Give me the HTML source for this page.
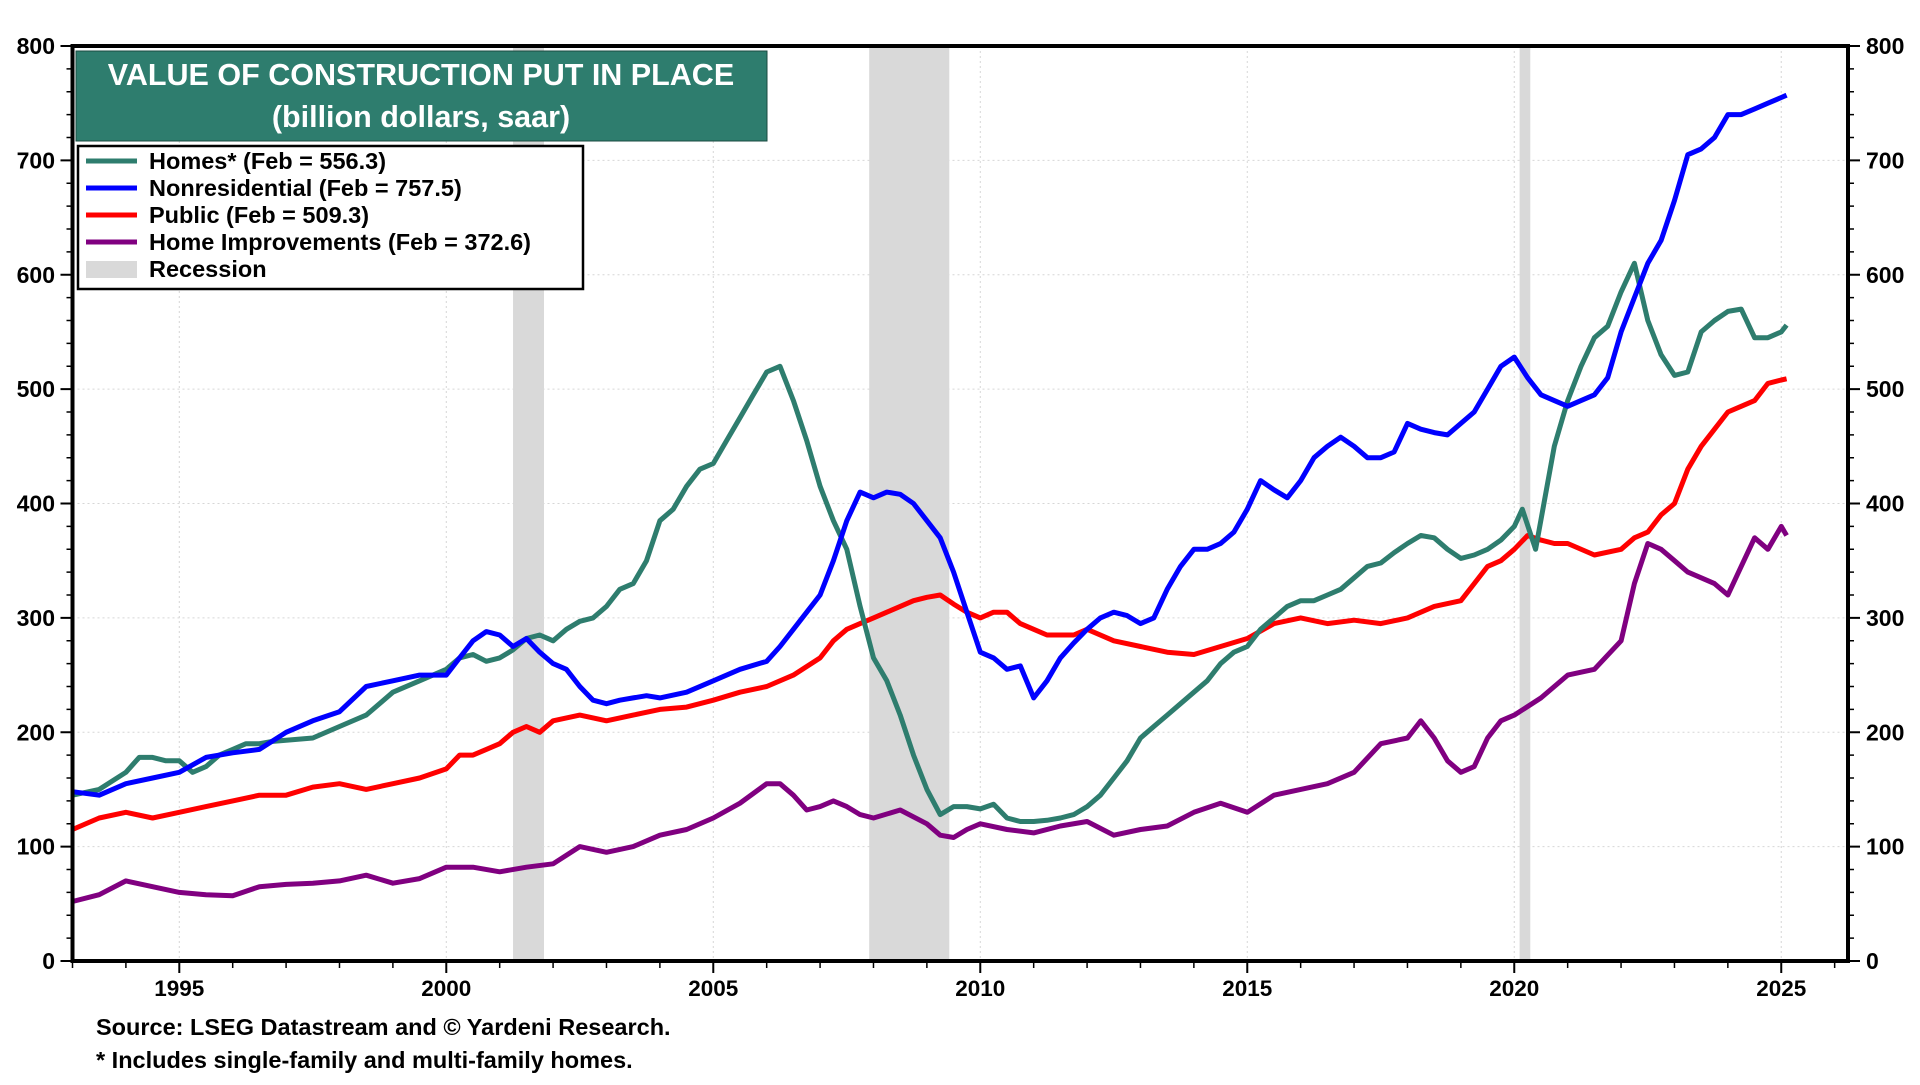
<!DOCTYPE html>
<html><head><meta charset="utf-8">
<style>
html,body{margin:0;padding:0;background:#fff;}
body{width:1920px;height:1080px;overflow:hidden;font-family:"Liberation Sans",Arial,sans-serif;}
svg text{font-family:"Liberation Sans",Arial,sans-serif;font-weight:bold;}
</style></head>
<body>
<svg id="chart" width="1920" height="1080" viewBox="0 0 1920 1080" xmlns="http://www.w3.org/2000/svg">
<g id="grid"></g>
<g id="recessions"></g>
<g id="series"></g>
<g id="axes"></g>
<g id="titlebox">
<rect x="76" y="51" width="691" height="90" fill="#2e7d6e" fill-opacity="1" stroke="#1a4a40" stroke-width="1"/>
<text x="421" y="85" text-anchor="middle" fill="#fff" font-size="30.5">VALUE OF CONSTRUCTION PUT IN PLACE</text>
<text x="421" y="127" text-anchor="middle" fill="#fff" font-size="30.5">(billion dollars, saar)</text>
</g>
<g id="legendbox">
<rect x="78" y="146" width="505" height="143" fill="#fff" stroke="#000" stroke-width="2.5"/>
<g><line x1="86" y1="161" x2="137" y2="161" stroke="#2e7d6e" stroke-width="5"/><text x="149" y="169" font-size="23.5">Homes* (Feb = 556.3)</text></g>
<g><line x1="86" y1="188" x2="137" y2="188" stroke="#0000ff" stroke-width="5"/><text x="149" y="196" font-size="23.5">Nonresidential (Feb = 757.5)</text></g>
<g><line x1="86" y1="215" x2="137" y2="215" stroke="#ff0000" stroke-width="5"/><text x="149" y="223" font-size="23.5">Public (Feb = 509.3)</text></g>
<g><line x1="86" y1="242" x2="137" y2="242" stroke="#800080" stroke-width="5"/><text x="149" y="250" font-size="23.5">Home Improvements (Feb = 372.6)</text></g>
<g><rect x="86" y="261" width="51" height="17" fill="#d9d9d9"/><text x="149" y="277" font-size="23.5">Recession</text></g>
</g>
<text x="96" y="1035" font-size="23.5">Source: LSEG Datastream and © Yardeni Research.</text>
<text x="96" y="1068" font-size="23.5">* Includes single-family and multi-family homes.</text>
</svg>
<script>
const yTicks=[0,100,200,300,400,500,600,700,800];
const xTickYears=[1995,2000,2005,2010,2015,2020,2025];
const recessionStarts=[2001.25,2007.92,2020.1];
const recessionEnds=[2001.83,2009.42,2020.3];

const homesDates=[1993,1993.5,1994,1994.25,1994.5,1994.75,1995,1995.25,1995.5,1995.75,1996,1996.25,1996.5,1996.75,1997,1997.5,1998,1998.5,1999,1999.5,2000,2000.25,2000.5,2000.75,2001,2001.25,2001.5,2001.75,2002,2002.25,2002.5,2002.75,2003,2003.25,2003.5,2003.75,2004,2004.25,2004.5,2004.75,2005,2005.25,2005.5,2005.75,2006,2006.25,2006.5,2006.75,2007,2007.25,2007.5,2007.75,2008,2008.25,2008.5,2008.75,2009,2009.25,2009.5,2009.75,2010,2010.25,2010.5,2010.75,2011,2011.25,2011.5,2011.75,2012,2012.25,2012.5,2012.75,2013,2013.25,2013.5,2013.75,2014,2014.25,2014.5,2014.75,2015,2015.25,2015.5,2015.75,2016,2016.25,2016.5,2016.75,2017,2017.25,2017.5,2017.75,2018,2018.25,2018.5,2018.75,2019,2019.25,2019.5,2019.75,2020,2020.15,2020.4,2020.75,2021,2021.25,2021.5,2021.75,2022,2022.25,2022.5,2022.75,2023,2023.25,2023.5,2023.75,2024,2024.25,2024.5,2024.75,2025,2025.1];
const homesVals=[145,150,165,178,178,175,175,165,170,180,185,190,190,192,193,195,205,215,235,245,255,265,268,262,265,272,282,285,280,290,297,300,310,325,330,350,385,395,415,430,435,455,475,495,515,520,490,455,415,385,360,310,265,245,215,180,150,128,135,135,133,137,125,122,122,123,125,128,135,145,160,175,195,205,215,225,235,245,260,270,275,290,300,310,315,315,320,325,335,345,348,357,365,372,370,360,352,355,360,368,380,395,360,450,490,520,545,555,585,610,560,530,512,515,550,560,568,570,545,545,550,556];

const nonresDates=[1993,1993.5,1994,1994.5,1995,1995.5,1996,1996.5,1997,1997.5,1998,1998.5,1999,1999.5,2000,2000.25,2000.5,2000.75,2001,2001.25,2001.5,2001.75,2002,2002.25,2002.5,2002.75,2003,2003.25,2003.5,2003.75,2004,2004.5,2005,2005.5,2006,2006.25,2006.5,2006.75,2007,2007.25,2007.5,2007.75,2008,2008.25,2008.5,2008.75,2009,2009.25,2009.5,2009.75,2010,2010.25,2010.5,2010.75,2011,2011.25,2011.5,2011.75,2012,2012.25,2012.5,2012.75,2013,2013.25,2013.5,2013.75,2014,2014.25,2014.5,2014.75,2015,2015.25,2015.5,2015.75,2016,2016.25,2016.5,2016.75,2017,2017.25,2017.5,2017.75,2018,2018.25,2018.5,2018.75,2019,2019.25,2019.5,2019.75,2020,2020.25,2020.5,2020.75,2021,2021.25,2021.5,2021.75,2022,2022.25,2022.5,2022.75,2023,2023.25,2023.5,2023.75,2024,2024.25,2024.5,2024.75,2025,2025.1];
const nonresVals=[148,145,155,160,165,178,182,185,200,210,218,240,245,250,250,265,280,288,285,275,282,270,260,255,240,228,225,228,230,232,230,235,245,255,262,275,290,305,320,350,385,410,405,410,408,400,385,370,340,305,270,265,255,258,230,245,265,278,290,300,305,302,295,300,325,345,360,360,365,375,395,420,412,405,420,440,450,458,450,440,440,445,470,465,462,460,470,480,500,520,528,510,495,490,485,490,495,510,550,580,610,630,665,705,710,720,740,740,745,750,755,757];

const publicDates=[1993,1993.5,1994,1994.5,1995,1995.5,1996,1996.5,1997,1997.5,1998,1998.5,1999,1999.5,2000,2000.25,2000.5,2000.75,2001,2001.25,2001.5,2001.75,2002,2002.5,2003,2003.5,2004,2004.5,2005,2005.5,2006,2006.5,2007,2007.25,2007.5,2007.75,2008,2008.25,2008.5,2008.75,2009,2009.25,2009.5,2009.75,2010,2010.25,2010.5,2010.75,2011,2011.25,2011.5,2011.75,2012,2012.5,2013,2013.5,2014,2014.5,2015,2015.5,2016,2016.5,2017,2017.5,2018,2018.5,2019,2019.25,2019.5,2019.75,2020,2020.25,2020.5,2020.75,2021,2021.5,2022,2022.25,2022.5,2022.75,2023,2023.25,2023.5,2023.75,2024,2024.25,2024.5,2024.75,2025,2025.1];
const publicVals=[115,125,130,125,130,135,140,145,145,152,155,150,155,160,168,180,180,185,190,200,205,200,210,215,210,215,220,222,228,235,240,250,265,280,290,295,300,305,310,315,318,320,312,305,300,305,305,295,290,285,285,285,290,280,275,270,268,275,282,295,300,295,298,295,300,310,315,330,345,350,360,372,368,365,365,355,360,370,375,390,400,430,450,465,480,485,490,505,508,509];

const improvDates=[1993,1993.5,1994,1994.5,1995,1995.5,1996,1996.5,1997,1997.5,1998,1998.5,1999,1999.5,2000,2000.5,2001,2001.5,2002,2002.5,2003,2003.5,2004,2004.5,2005,2005.5,2006,2006.25,2006.5,2006.75,2007,2007.25,2007.5,2007.75,2008,2008.5,2009,2009.25,2009.5,2009.75,2010,2010.5,2011,2011.5,2012,2012.5,2013,2013.5,2014,2014.5,2015,2015.5,2016,2016.5,2017,2017.5,2018,2018.25,2018.5,2018.75,2019,2019.25,2019.5,2019.75,2020,2020.5,2021,2021.5,2022,2022.25,2022.5,2022.75,2023,2023.25,2023.5,2023.75,2024,2024.25,2024.5,2024.75,2025,2025.1];
const improvVals=[52,58,70,65,60,58,57,65,67,68,70,75,68,72,82,82,78,82,85,100,95,100,110,115,125,138,155,155,145,132,135,140,135,128,125,132,120,110,108,115,120,115,112,118,122,110,115,118,130,138,130,145,150,155,165,190,195,210,195,175,165,170,195,210,215,230,250,255,280,330,365,360,350,340,335,330,320,345,370,360,380,372];

const L=72.5,R=1848,T=46,B=961,X0=1993,X1=2026.25,Y0=0,Y1=800;
function xs(t){return L+(t-X0)/(X1-X0)*(R-L);}
function ys(v){return B-(v-Y0)/(Y1-Y0)*(B-T);}
const NS="http://www.w3.org/2000/svg";
function mk(tag,attrs,parent){const e=document.createElementNS(NS,tag);for(const k in attrs)e.setAttribute(k,attrs[k]);parent.appendChild(e);return e;}
const grid=document.getElementById('grid'),rec=document.getElementById('recessions'),ser=document.getElementById('series'),ax=document.getElementById('axes');

yTicks.forEach(v=>{
  if(v>0&&v<800){const g=mk('line',{x1:L,x2:R,y1:ys(v),y2:ys(v),stroke:'#d6d6d6','stroke-width':1,'stroke-dasharray':'2,3'},grid);
  
  }
  const a=mk('text',{x:55,y:ys(v)+8,'text-anchor':'end','font-size':23},ax);a.textContent=v;
  
  
  const b=mk('text',{x:1866,y:ys(v)+8,'font-size':23},ax);b.textContent=v;
  
  
  mk('line',{x1:L-12,x2:L,y1:ys(v),y2:ys(v),stroke:'#000','stroke-width':2},ax);
  mk('line',{x1:R,x2:R+12,y1:ys(v),y2:ys(v),stroke:'#000','stroke-width':2},ax);
  if(v<800)for(let m=20;m<100;m+=20){mk('line',{x1:L-6,x2:L,y1:ys(v+m),y2:ys(v+m),stroke:'#000','stroke-width':1.5},ax);mk('line',{x1:R,x2:R+6,y1:ys(v+m),y2:ys(v+m),stroke:'#000','stroke-width':1.5},ax);}
});
xTickYears.forEach(yr=>{
  const g=mk('line',{x1:xs(yr),x2:xs(yr),y1:T,y2:B,stroke:'#d6d6d6','stroke-width':1,'stroke-dasharray':'2,3'},grid);
  
  
  const t=mk('text',{x:xs(yr),y:B+35,'text-anchor':'middle','font-size':22.5},ax);t.textContent=yr;
  
  
  mk('line',{x1:xs(yr),x2:xs(yr),y1:B,y2:B+12,stroke:'#000','stroke-width':2},ax);
});
for(let yr=1993;yr<=2026;yr++){if(yr%5)mk('line',{x1:xs(yr),x2:xs(yr),y1:B,y2:B+7,stroke:'#000','stroke-width':1.5},ax);}
recessionStarts.forEach((s,i)=>{
  const r=mk('rect',{x:xs(s),y:T,width:xs(recessionEnds[i])-xs(s),height:B-T,fill:'#d9d9d9'},rec);
  
  
});
function line(d,v,c,name){
  const p=mk('polyline',{points:d.map((t,i)=>xs(t).toFixed(1)+','+ys(v[i]).toFixed(1)).join(' '),fill:'none',stroke:c,'stroke-width':5,'stroke-linejoin':'round'},ser);
  
  
}
line(improvDates,improvVals,'#800080','home-improvements-line');
line(publicDates,publicVals,'#ff0000','public-line');
line(homesDates,homesVals,'#2e7d6e','homes-line');
line(nonresDates,nonresVals,'#0000ff','nonresidential-line');
mk('rect',{x:L,y:T,width:R-L,height:B-T,fill:'none',stroke:'#000','stroke-width':4},ax);
const sv=document.getElementById('chart');
sv.appendChild(document.getElementById('titlebox'));
sv.appendChild(document.getElementById('legendbox'));
</script>
</body></html>
